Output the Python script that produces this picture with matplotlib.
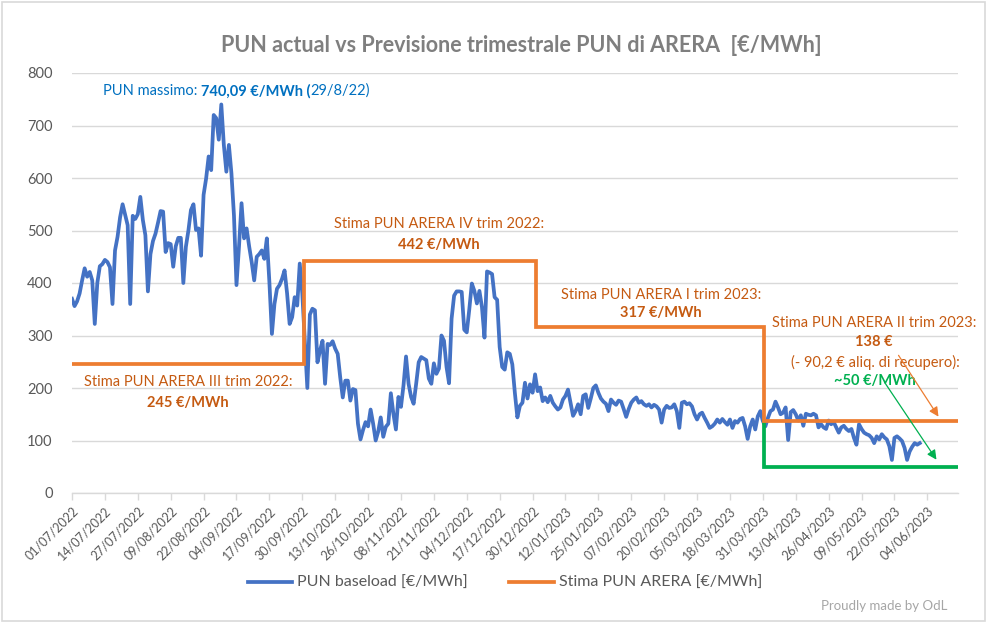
import matplotlib
matplotlib.use("Agg")
import matplotlib.pyplot as plt
import matplotlib.dates as mdates
from matplotlib.patches import Rectangle
import pandas as pd

plt.rcParams['font.family'] = ['Lato', 'DejaVu Sans']

# ---------------- data ----------------
pun_start = '2022-07-01'
pun_values = [
    370, 356, 365, 380, 405, 428, 412, 421, 405, 322,
    400, 432, 436, 444, 440, 430, 360, 462, 488, 525,
    550, 530, 510, 360, 528, 522, 531, 564, 520, 491,
    384, 455, 480, 494, 515, 537, 536, 459, 476, 474,
    431, 470, 486, 486, 400, 469, 500, 539, 550, 501,
    504, 452, 568, 599, 641, 615, 720, 714, 673, 740.09,
    663, 612, 663, 609, 529, 396, 470, 552, 485, 504,
    470, 440, 405, 450, 455, 462, 446, 485, 402, 303,
    360, 389, 396, 408, 424, 380, 322, 335, 373, 357,
    437, 380, 290, 200, 340, 351, 348, 249, 271, 290,
    208, 284, 282, 289, 275, 265, 220, 182, 214, 214,
    176, 198, 196, 132, 102, 120, 135, 127, 159, 132,
    100, 117, 144, 107, 126, 132, 190, 151, 121, 183,
    164, 205, 260, 208, 183, 170, 208, 249, 259, 256,
    253, 218, 208, 247, 227, 237, 300, 290, 240, 209,
    332, 376, 384, 384, 383, 311, 306, 350, 399, 385,
    361, 385, 354, 296, 422, 420, 417, 373, 368, 278,
    240, 235, 268, 265, 245, 191, 144, 166, 172, 210,
    180, 207, 191, 226, 194, 201, 175, 182, 173, 185,
    172, 165, 159, 163, 178, 185, 197, 172, 147, 156,
    169, 150, 185, 188, 162, 180, 200, 205, 191, 180,
    174, 170, 156, 178, 172, 168, 176, 174, 160, 145,
    160, 172, 178, 182, 172, 175, 169, 166, 169, 163,
    168, 165, 159, 134, 159, 166, 162, 163, 169, 156,
    124, 172, 174, 169, 171, 165, 150, 140, 150, 153,
    143, 134, 124, 127, 132, 140, 134, 141, 135, 130,
    140, 124, 137, 134, 141, 143, 127, 103, 127, 140,
    121, 146, 156, 137, 127, 143, 156, 159, 174, 163,
    150, 153, 163, 101, 154, 158, 150, 138, 148, 128,
    151, 149, 148, 151, 148, 125, 131, 125, 122, 138,
    131, 135, 125, 115, 125, 128, 122, 118, 122, 105,
    92, 131, 122, 115, 112, 110, 105, 95, 108, 102,
    112, 106, 102, 89, 63, 105, 108, 104, 99, 86,
    63, 79, 88, 95, 92, 95,
]

arera_quarter_starts = ['2022-07-01', '2022-10-01', '2023-01-01', '2023-04-01']
arera_values = [245, 442, 317, 138]
arera_end = '2023-06-16'
recovery_start = '2023-04-01'
recovery_value = 50

tick_start = '2022-07-01'
tick_count = 27
tick_step_days = 13

# ---------------- colours ----------------
BLUE = '#4472C4'
ORANGE = '#ED7D31'
GREEN = '#00B050'
ORANGE_TXT = '#C55A11'
BLUE_TXT = '#0070C0'
GRAY_TXT = '#595959'
GRID = '#D9D9D9'

W, H = 989, 624
fig = plt.figure(figsize=(W / 100, H / 100), dpi=100)

def fx(px):
    return px / W

def fy(py):
    return 1 - py / H

ax = fig.add_axes([fx(72), fy(493), fx(957.7) - fx(72), fy(73) - fy(493)])

dates = pd.date_range(pun_start, periods=len(pun_values), freq='D')
half = pd.Timedelta(hours=12)

# ARERA step path
starts = [pd.Timestamp(s) for s in arera_quarter_starts]
end = pd.Timestamp(arera_end)
ax_x, ax_y = [], []
for i, (s, v) in enumerate(zip(starts, arera_values)):
    x0 = s if i == 0 else s - half
    x1 = starts[i + 1] - half if i + 1 < len(starts) else end
    ax_x += [x0, x1]
    ax_y += [v, v]

rec_x0 = pd.Timestamp(recovery_start) - half
ax.plot([rec_x0, rec_x0, end], [arera_values[-1], recovery_value, recovery_value],
        color=GREEN, lw=2.7, zorder=2.5, solid_joinstyle='miter')
ln_pun, = ax.plot(dates, pun_values, color=BLUE, lw=2.7, zorder=2,
                  solid_joinstyle='round', label='PUN baseload [€/MWh]')
ln_arera, = ax.plot(ax_x, ax_y, color=ORANGE, lw=2.7, zorder=3,
                    solid_joinstyle='miter', label='Stima PUN ARERA [€/MWh]')

# axes styling
ax.set_ylim(0, 800)
ax.set_yticks(range(0, 801, 100))
ax.set_xlim(pd.Timestamp(tick_start), end)
ticks = pd.date_range(tick_start, periods=tick_count, freq=f'{tick_step_days}D')
ax.set_xticks(ticks)
ax.xaxis.set_major_formatter(mdates.DateFormatter('%d/%m/%Y'))
for lab in ax.get_xticklabels():
    lab.set_rotation(45)
    lab.set_ha('right')
    lab.set_rotation_mode('anchor')
ax.tick_params(axis='x', colors=GRID, labelcolor=GRAY_TXT, labelsize=9,
               length=5, width=1, direction='out', pad=3)
ax.tick_params(axis='y', length=0, labelcolor=GRAY_TXT, labelsize=10.5, pad=14)
ax.grid(axis='y', color=GRID, lw=1)
ax.set_axisbelow(True)
for s in ['top', 'right', 'left']:
    ax.spines[s].set_visible(False)
ax.spines['bottom'].set_color(GRID)
ax.spines['bottom'].set_linewidth(1)

# title
fig.text(fx(521), fy(45), 'PUN actual vs Previsione trimestrale PUN di ARERA  [€/MWh]',
         ha='center', va='center', fontsize=15.5, fontweight='bold', color='#7F7F7F')

# max annotation (mixed weight)
t1 = fig.text(fx(103), fy(91), 'PUN massimo: ', ha='left', va='center',
              fontsize=10.5, color=BLUE_TXT)
t2 = fig.text(0, 0, '740,09 €/MWh (', fontsize=10.5, color=BLUE_TXT, fontweight='bold')
fig.canvas.draw()
r = fig.canvas.get_renderer()
bb = t1.get_window_extent(r)
t2.set_position((bb.x1 / W, fy(91)))
t2.set_va('center')
bb2 = t2.get_window_extent(r)
fig.text(bb2.x1 / W, fy(91), '29/8/22)', fontsize=10.5, color=BLUE_TXT, va='center')

# quarter annotations
def qlabel(x, y1, y2, l1, l2):
    fig.text(fx(x), fy(y1), l1, ha='center', va='center', fontsize=10.5, color=ORANGE_TXT)
    fig.text(fx(x), fy(y2), l2, ha='center', va='center', fontsize=10.5,
             color=ORANGE_TXT, fontweight='bold')

qlabel(188, 382, 403, 'Stima PUN ARERA III trim 2022:', '245 €/MWh')
qlabel(439, 224, 245, 'Stima PUN ARERA IV trim 2022:', '442 €/MWh')
qlabel(661, 295, 313, 'Stima PUN ARERA I trim 2023:', '317 €/MWh')
qlabel(874, 323, 342, 'Stima PUN ARERA II trim 2023:', '138 €')
fig.text(fx(875), fy(362), '(- 90,2 € aliq. di recupero):', ha='center', va='center',
         fontsize=10.5, color=ORANGE_TXT)
fig.text(fx(875), fy(381), '~50 €/MWh', ha='center', va='center', fontsize=10.5,
         color=GREEN, fontweight='bold')

# arrows
fig.add_artist(matplotlib.patches.FancyArrowPatch(
    (fx(897), fy(353)), (fx(940), fy(419)), transform=fig.transFigure,
    arrowstyle='-|>', mutation_scale=14, color=ORANGE, lw=0.9, zorder=5))
fig.add_artist(matplotlib.patches.FancyArrowPatch(
    (fx(883), fy(380)), (fx(938), fy(462)), transform=fig.transFigure,
    arrowstyle='-|>', mutation_scale=14, color=GREEN, lw=0.9, zorder=5))

# legend
fig.legend(handles=[ln_pun, ln_arera], loc='center', bbox_to_anchor=(fx(505), fy(583)),
           ncol=2, frameon=False, handlelength=2.8, columnspacing=2.6,
           handletextpad=0.3, fontsize=11.5, labelcolor=GRAY_TXT)

fig.text(fx(947), fy(606), 'Proudly made by OdL', ha='right', va='center',
         fontsize=9.5, color='#A6A6A6')

# outer border
fig.add_artist(Rectangle((fx(2), fy(621)), fx(985) - fx(2), fy(2) - fy(621),
                         transform=fig.transFigure, fill=False, ec=GRID, lw=1.2))

fig.savefig('out.png', dpi=100)
